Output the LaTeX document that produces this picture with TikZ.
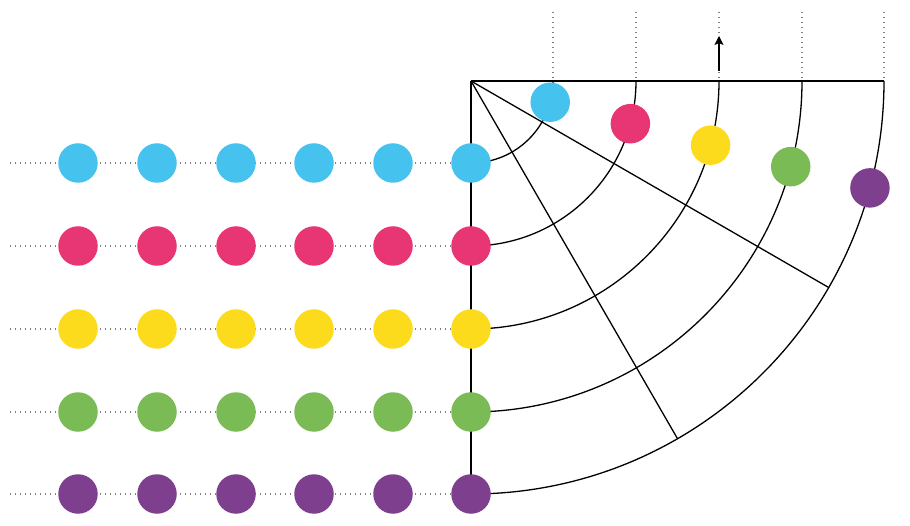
\documentclass[tikz,border=0pt]{standalone}
\usetikzlibrary{arrows.meta,calc}
\definecolor{cblue}{HTML}{46C2EF}
\definecolor{cred}{HTML}{E83573}
\definecolor{cyellow}{HTML}{FCDB1C}
\definecolor{cgreen}{HTML}{7BBB55}
\definecolor{cpurple}{HTML}{7F3F8F}
\definecolor{dotgray}{HTML}{808080}
\tikzset{
  dotline/.style={dotgray, line width=1.3pt, dash pattern=on 1.3pt off 3.7pt},
  blk/.style={black, line width=1.3pt},
  ball/.style={circle, minimum size=39.5pt, inner sep=0pt, fill=#1},
}
\begin{document}
\begin{tikzpicture}[x=1pt,y=-1pt]
\useasboundingbox (0,0) rectangle (910,526);
\coordinate (O) at (471,81);
% horizontal dotted lines
\foreach \y/\i in {163/1,246/2,329/3,412/4,494/5}{
  \coordinate (L\i) at (10,\y);
  \coordinate (R\i) at (471,\y);
  \draw[dotline] (L\i) -- (R\i);
}
% vertical dotted lines
\foreach \x/\i in {553/1,636/2,719/3,802/4,884/5}{
  \coordinate (T\i) at (\x,12);
  \coordinate (B\i) at (\x,81);
  \draw[dotline] (T\i) -- (B\i);
}
% frame lines
\draw[blk] (O) -- (B5);
\draw[blk] (O) -- (R5);
\draw[blk] (O) -- ++(30:413) coordinate (E30);
\draw[blk] (O) -- ++(60:413) coordinate (E60);
% arcs
\foreach \r in {82,165,248,331,413}{
  \draw[blk] (O) ++(90:\r) arc[start angle=90, end angle=0, radius=\r];
}
% arrow
\coordinate (A0) at (719,71);
\coordinate (A1) at (719,36);
\draw[blk, -{Stealth[length=9pt,width=9pt,inset=2pt]}] (A0) -- (A1);
% balls on the grid
\foreach \y/\c/\i in {163/cblue/1,246/cred/2,329/cyellow/3,412/cgreen/4,494/cpurple/5}{
  \foreach \x/\j in {78/1,157/2,236/3,314/4,393/5,471/6}{
    \node[ball=\c] (g\i\j) at (\x,\y) {};
  }
}
% balls on arcs
\foreach \r/\c/\i in {82/cblue/1,165/cred/2,248/cyellow/3,331/cgreen/4,413/cpurple/5}{
  \node[ball=\c] (a\i) at ($(O)+(15:\r)$) {};
}
\end{tikzpicture}
\end{document}
